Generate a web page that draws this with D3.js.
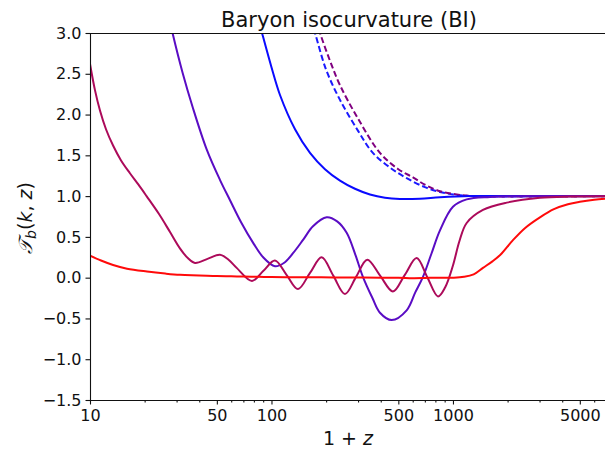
<!DOCTYPE html>
<html>
<head>
<meta charset="utf-8">
<script src="https://cdn.jsdelivr.net/npm/d3@7"></script>
<style>
  body { margin: 0; background: #fff; }
  text { font-family: "DejaVu Sans", sans-serif; }
</style>
</head>
<body>
<script>
// values: 1+z and T_b for each curve
var redZ  = [10, 11.5, 13.4, 16, 20.6, 26, 31.3, 40, 50, 60, 70, 85, 100, 130, 170, 220, 300, 400, 500, 600, 700, 800, 1000, 1150, 1300, 1463, 1650, 1826, 2141, 2500, 3015, 3600, 4300, 5000, 6000, 7200];
var redT  = [0.27, 0.21, 0.155, 0.11, 0.075, 0.05, 0.035, 0.028, 0.02, 0.017, 0.014, 0.01, 0.008, 0.006, 0.005, 0.003, 0.002, 0.0, 0.0, -0.006, -0.004, 0.0, 0.0, 0.01, 0.04, 0.12, 0.2, 0.28, 0.46, 0.61, 0.74, 0.84, 0.9, 0.93, 0.955, 0.97];

var crimZ = [10, 10.65, 11.35, 12.25, 13.4, 14.8, 16.6, 18.5, 20.5, 24, 27.6, 31.3, 34.6, 37.9, 44.4, 52, 58, 64.3, 78.1, 90.3, 104.5, 121, 140, 162.7, 189, 219, 254, 292.6, 337, 396.7, 467, 543, 631, 722, 827, 905, 1000, 1086, 1190, 1463, 1977, 3015, 4500, 7200];
var crimT = [2.62, 2.3, 2.05, 1.82, 1.62, 1.44, 1.28, 1.14, 1.0, 0.78, 0.56, 0.36, 0.24, 0.18, 0.23, 0.28, 0.22, 0.12, -0.04, 0.085, 0.21, 0.035, -0.14, 0.055, 0.25, 0.025, -0.2, 0.01, 0.22, 0.025, -0.17, 0.035, 0.24, 0.005, -0.23, -0.12, 0.15, 0.45, 0.67, 0.83, 0.92, 0.98, 0.995, 1.0];

var indZ  = [26.9, 28.5, 32.4, 36.8, 44, 52, 59.1, 68, 79.1, 90, 104.5, 117, 131.4, 150, 169.3, 201.4, 230, 259.6, 290, 319, 360, 396, 459.6, 555.7, 620, 683.5, 760, 848, 1000, 1190, 1599, 2500, 7200];
var indT  = [3.25, 3.0, 2.51, 2.09, 1.57, 1.2, 0.95, 0.68, 0.43, 0.25, 0.14, 0.18, 0.30, 0.47, 0.63, 0.74, 0.69, 0.55, 0.28, 0.01, -0.25, -0.43, -0.52, -0.40, -0.18, 0.01, 0.29, 0.58, 0.87, 0.96, 0.99, 1.0, 1.0];

var blueZ = [83.5, 88.7, 100, 111.4, 134.8, 163, 197.1, 238.5, 288.4, 348.9, 422, 510.5, 658, 848, 1241, 2000, 7200];
var blueT = [3.22, 3.0, 2.58, 2.24, 1.82, 1.53, 1.33, 1.19, 1.09, 1.02, 0.98, 0.965, 0.968, 0.985, 1.0, 1.0, 1.0];

var blueDashZ = [158.9, 173.6, 200, 238.5, 300, 362, 450, 556, 700, 848, 1050, 1300, 7200];
var blueDashT = [3.26, 3.0, 2.55, 2.18, 1.8, 1.53, 1.35, 1.22, 1.11, 1.05, 1.015, 1.0, 1.0];

var purpDashZ = [169.3, 185, 210, 238.5, 300, 396, 500, 602, 700, 848, 1050, 1300, 7200];
var purpDashT = [3.26, 3.0, 2.66, 2.36, 1.95, 1.53, 1.33, 1.23, 1.14, 1.06, 1.02, 1.0, 1.0];

var xMajor = [10, 50, 100, 500, 1000, 5000];
var xMinor = [20, 30, 40, 60, 70, 80, 90, 200, 300, 400, 600, 700, 800, 900, 2000, 3000, 4000, 6000, 7000];
var yTicks = [-1.5, -1.0, -0.5, 0.0, 0.5, 1.0, 1.5, 2.0, 2.5, 3.0];

var width = 605, height = 449;
var plotLeft = 90, plotRight = 608, plotTop = 33, plotBottom = 400;

var svg = d3.select("body").append("svg")
    .attr("width", width)
    .attr("height", height);

var x = d3.scaleLog().domain([10, 7150]).range([plotLeft, plotRight]);
var y = d3.scaleLinear().domain([-1.5, 3.0]).range([plotBottom, plotTop]);

svg.append("clipPath").attr("id", "plot")
  .append("rect")
    .attr("x", plotLeft).attr("y", plotTop)
    .attr("width", plotRight - plotLeft).attr("height", plotBottom - plotTop);

var line = d3.line()
    .x(function(d) { return x(d[0]); })
    .y(function(d) { return y(d[1]); })
    .curve(d3.curveCatmullRom.alpha(0.5));

function pairs(zs, ts) {
  return zs.map(function(z, i) { return [z, ts[i]]; });
}

var curves = [
  { z: blueDashZ, t: blueDashT, color: "#1a1aff", dash: "6,3" },
  { z: purpDashZ, t: purpDashT, color: "#800080", dash: "6,3" },
  { z: blueZ, t: blueT, color: "#0a0aff", dash: null },
  { z: indZ,  t: indT,  color: "#5a0cc4", dash: null },
  { z: crimZ, t: crimT, color: "#ac0a5a", dash: null },
  { z: redZ,  t: redT,  color: "#ff0a0a", dash: null }
];

var g = svg.append("g").attr("clip-path", "url(#plot)");

g.selectAll("path")
    .data(curves)
    .enter()
      .append("path")
      .attr("d", function(c) { return line(pairs(c.z, c.t)); })
      .attr("fill", "none")
      .attr("stroke", function(c) { return c.color; })
      .attr("stroke-width", 2)
      .attr("stroke-dasharray", function(c) { return c.dash; });

// axes
svg.append("g")
    .attr("transform", "translate(" + plotLeft + ",0)")
    .call(d3.axisLeft(y).tickValues(yTicks).tickFormat(d3.format(".1f")).tickSize(4.5).tickPadding(4).tickSizeOuter(0));

svg.append("g")
    .attr("transform", "translate(0," + plotBottom + ")")
    .call(d3.axisBottom(x).tickValues(xMinor).tickFormat("").tickSize(2.5).tickSizeOuter(0));

svg.append("g")
    .attr("transform", "translate(0," + plotBottom + ")")
    .call(d3.axisBottom(x).tickValues(xMajor).tickFormat(d3.format("d")).tickSize(4.5).tickPadding(5).tickSizeOuter(0));

svg.selectAll(".tick text")
    .attr("font-family", "DejaVu Sans")
    .attr("font-size", 16)
    .attr("fill", "#111");
svg.selectAll(".domain, .tick line").attr("stroke", "#111").attr("stroke-width", 1.1);

svg.append("line")
    .attr("x1", plotLeft).attr("x2", plotRight)
    .attr("y1", plotTop + 0.5).attr("y2", plotTop + 0.5)
    .attr("stroke", "#111").attr("stroke-width", 1.1);

// title and labels
svg.append("text")
    .attr("x", 349).attr("y", 27)
    .attr("text-anchor", "middle")
    .attr("font-size", 21)
    .attr("fill", "#111")
    .text("Baryon isocurvature (BI)");

var xl = svg.append("text")
    .attr("x", 348).attr("y", 445)
    .attr("text-anchor", "middle")
    .attr("font-size", 19)
    .attr("fill", "#111");
xl.append("tspan").text("1 + ");
xl.append("tspan").attr("font-style", "italic").text("z");

var yl = svg.append("text")
    .attr("transform", "translate(32,218) rotate(-90)")
    .attr("text-anchor", "middle")
    .attr("font-size", 19)
    .attr("fill", "#111");
yl.append("tspan").attr("font-style", "italic").text("𝒯");
yl.append("tspan").attr("font-style", "italic").attr("font-size", 14).attr("dy", 4).text("b");
yl.append("tspan").attr("dy", -4).text("(");
yl.append("tspan").attr("font-style", "italic").text("k");
yl.append("tspan").text(", ");
yl.append("tspan").attr("font-style", "italic").text("z");
yl.append("tspan").text(")");
</script>
</body>
</html>
